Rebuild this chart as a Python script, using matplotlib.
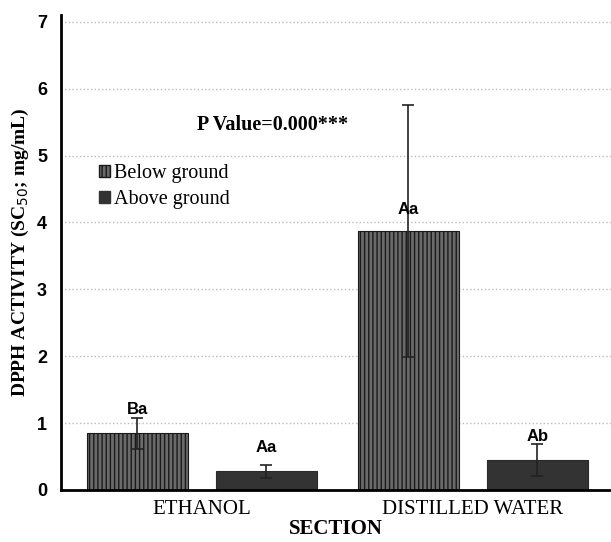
import matplotlib

matplotlib.use("Agg")
import matplotlib.pyplot as plt
import numpy as np
from matplotlib.patches import Patch

sections = ["ETHANOL", "DISTILLED WATER"]
series = ["Below ground", "Above ground"]
below_vals = [0.85, 3.87]
below_err = [0.23, 1.88]
above_vals = [0.28, 0.45]
above_err = [0.10, 0.24]
below_letters = ["Ba", "Aa"]
above_letters = ["Aa", "Ab"]
below_letter_y = [1.2, 4.2]
above_letter_y = [0.63, 0.80]
yticks = [0, 1, 2, 3, 4, 5, 6, 7]

serif = ["Liberation Serif", "DejaVu Serif"]
sans = ["Liberation Sans", "DejaVu Sans"]

fig = plt.figure(figsize=(6.11, 5.42), dpi=100)
ax = fig.add_axes([0.0998, 0.096, 0.9002, 0.876])

x = np.arange(len(sections))
w = 0.373
off = 0.238
plt.rcParams["hatch.linewidth"] = 1.0
plt.rcParams["hatch.color"] = "#1a1a1a"

ax.bar(x - off, below_vals, w, color="#6a6a6a", hatch="||||", edgecolor="#1a1a1a",
       linewidth=0.8, label=series[0], zorder=2)
ax.bar(x + off, above_vals, w, color="#333333", edgecolor="#2a2a2a",
       linewidth=0.8, label=series[1], zorder=2)
ax.errorbar(x - off, below_vals, yerr=below_err, fmt="none", ecolor="#222222",
            elinewidth=1.2, capsize=4, capthick=1.2, zorder=3)
ax.errorbar(x + off, above_vals, yerr=above_err, fmt="none", ecolor="#222222",
            elinewidth=1.2, capsize=4, capthick=1.2, zorder=3)

for i in range(len(sections)):
    ax.text(x[i] - off, below_letter_y[i], below_letters[i], ha="center", va="center",
            fontsize=12, fontweight="bold", family=sans, zorder=4)
    ax.text(x[i] + off, above_letter_y[i], above_letters[i], ha="center", va="center",
            fontsize=12, fontweight="bold", family=sans, zorder=4)

ax.text(0.26, 5.46, "P Value=0.000***", ha="center", va="center", fontsize=14.5,
        fontweight="bold", family=serif)

ax.set_xlim(-0.52, 1.51)
ax.set_ylim(0, 7.1)
ax.set_yticks(yticks)
ax.set_yticklabels([str(t) for t in yticks], fontsize=13, fontweight="bold", family=sans)
ax.set_xticks(x)
ax.set_xticklabels(sections, fontsize=15, family=serif)
ax.tick_params(axis="x", length=0, pad=7)
ax.tick_params(axis="y", length=0, pad=10)
ax.yaxis.grid(True, linestyle=":", color="#bbbbbb", linewidth=1.0, zorder=0)
ax.set_axisbelow(True)
for s in ["top", "right"]:
    ax.spines[s].set_visible(False)
ax.spines["left"].set_linewidth(2.0)
ax.spines["bottom"].set_linewidth(2.0)

ax.set_xlabel("SECTION", fontsize=15, fontweight="bold", family=serif, labelpad=0)
ax.set_ylabel("DPPH ACTIVITY (SC$_{50}$; mg/mL)", fontsize=14, fontweight="bold",
              family=serif, labelpad=4)

handles = [Patch(facecolor="#6a6a6a", hatch="||||", edgecolor="#1a1a1a"),
           Patch(facecolor="#333333", edgecolor="#333333")]
ax.legend(handles, series, loc="upper left", bbox_to_anchor=(0.036, 0.725), frameon=False,
          prop={"family": serif, "size": 14.5}, handlelength=0.55, handleheight=0.55,
          handletextpad=0.2, labelspacing=0.35)

fig.savefig("out.png", dpi=100)
